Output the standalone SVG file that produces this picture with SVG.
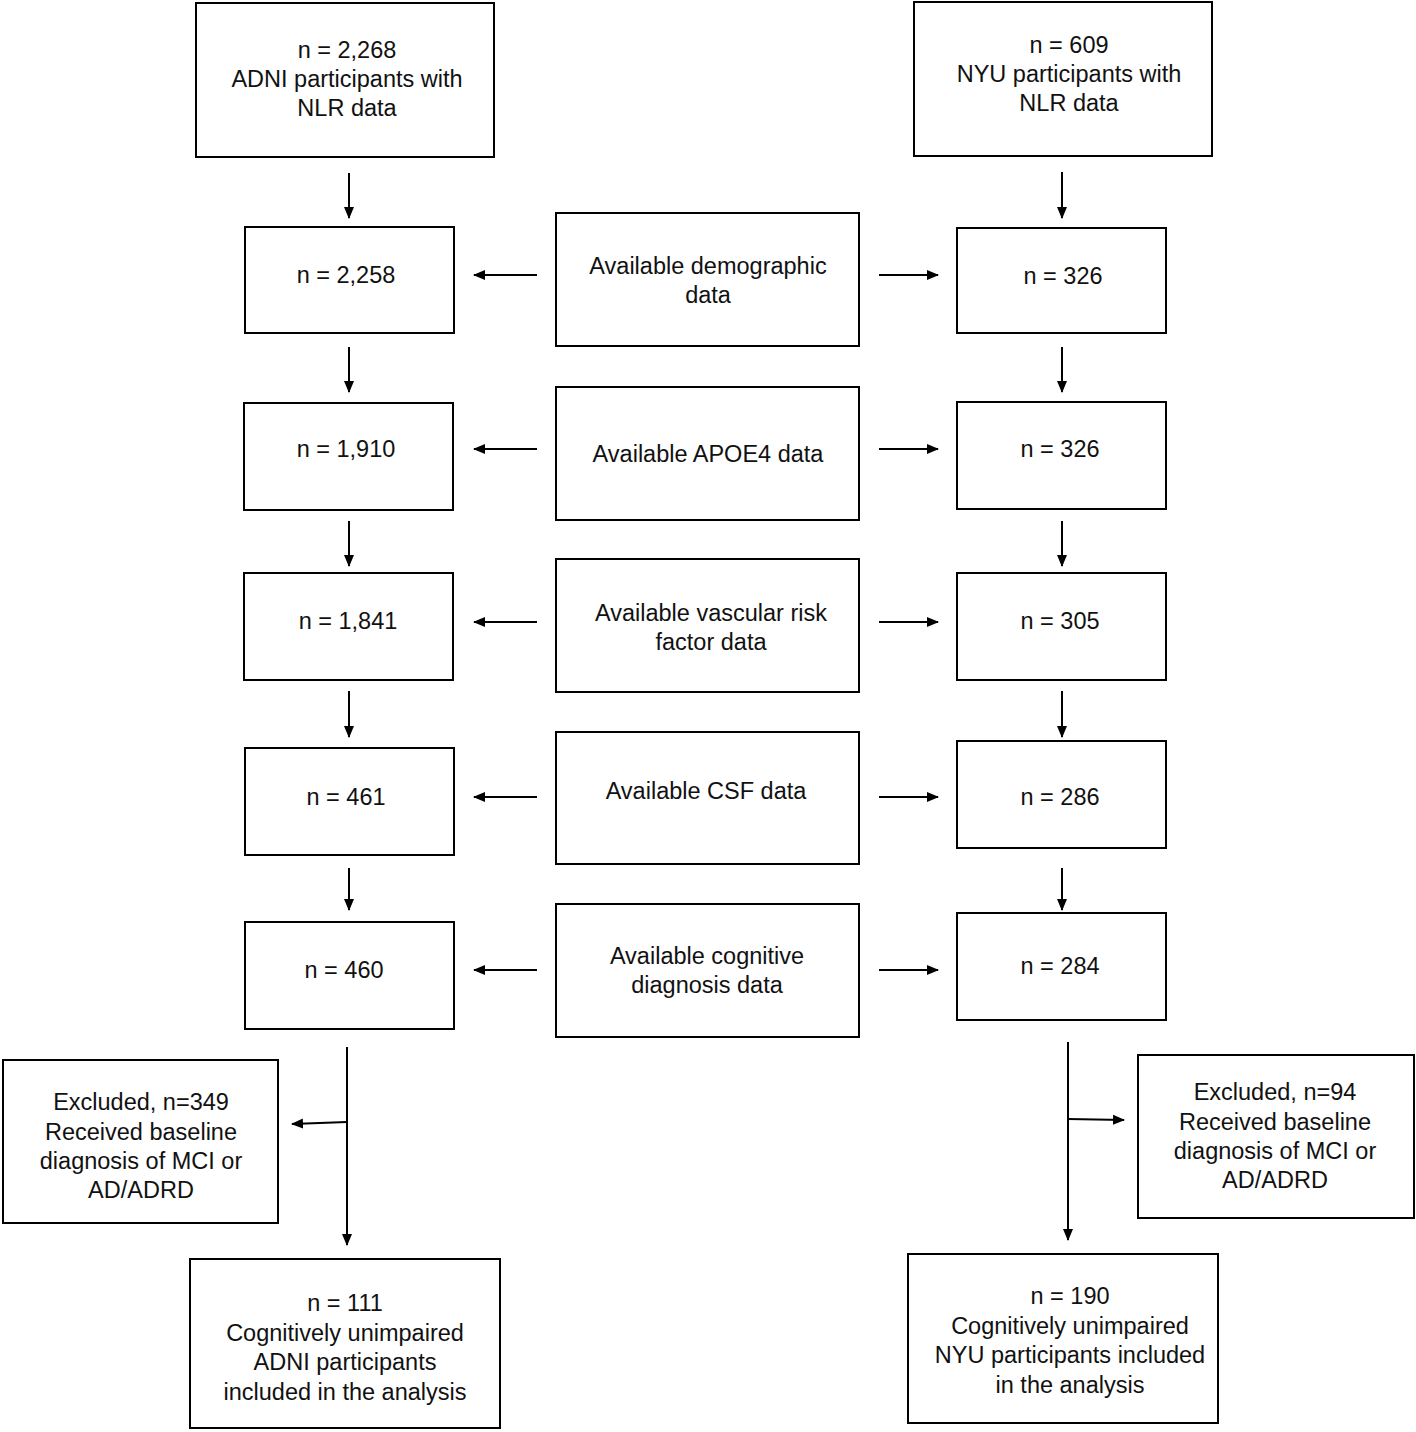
<svg xmlns="http://www.w3.org/2000/svg" width="1416" height="1432" viewBox="0 0 1416 1432">
<style>
rect{fill:#fff;stroke:#000;stroke-width:2}
text{font-family:"Liberation Sans",Arial,sans-serif;font-size:23.5px;text-anchor:middle;fill:#111}
.c line{stroke:#000;stroke-width:2;marker-end:url(#a)}
</style>
<defs><marker id="a" markerWidth="12" markerHeight="12" refX="11" refY="6" orient="auto" markerUnits="userSpaceOnUse"><path d="M0,1 L12,6 L0,11 Z" fill="#000"/></marker></defs>
<rect width="1416" height="1432" style="stroke:none"/>
<g id="adni0"><rect x="196" y="3" width="298" height="154"/><text x="347" y="58">n = 2,268</text><text x="347" y="87">ADNI participants with</text><text x="347" y="116">NLR data</text></g>
<g id="nyu0"><rect x="914" y="2" width="298" height="154"/><text x="1069" y="53">n = 609</text><text x="1069" y="82">NYU participants with</text><text x="1069" y="111">NLR data</text></g>
<g id="l1"><rect x="245" y="227" width="209" height="106"/><text x="346" y="283">n = 2,258</text></g>
<g id="l2"><rect x="244" y="403" width="209" height="107"/><text x="346" y="457">n = 1,910</text></g>
<g id="l3"><rect x="244" y="573" width="209" height="107"/><text x="348" y="629">n = 1,841</text></g>
<g id="l4"><rect x="245" y="748" width="209" height="107"/><text x="346" y="805">n = 461</text></g>
<g id="l5"><rect x="245" y="922" width="209" height="107"/><text x="344" y="978">n = 460</text></g>
<g id="c1"><rect x="556" y="213" width="303" height="133"/><text x="708" y="274">Available demographic</text><text x="708" y="303">data</text></g>
<g id="c2"><rect x="556" y="387" width="303" height="133"/><text x="708" y="462">Available APOE4 data</text></g>
<g id="c3"><rect x="556" y="559" width="303" height="133"/><text x="711" y="621">Available vascular risk</text><text x="711" y="650">factor data</text></g>
<g id="c4"><rect x="556" y="732" width="303" height="132"/><text x="706" y="799">Available CSF data</text></g>
<g id="c5"><rect x="556" y="904" width="303" height="133"/><text x="707" y="964">Available cognitive</text><text x="707" y="993">diagnosis data</text></g>
<g id="r1"><rect x="957" y="228" width="209" height="105"/><text x="1063" y="284">n = 326</text></g>
<g id="r2"><rect x="957" y="402" width="209" height="107"/><text x="1060" y="457">n = 326</text></g>
<g id="r3"><rect x="957" y="573" width="209" height="107"/><text x="1060" y="629">n = 305</text></g>
<g id="r4"><rect x="957" y="741" width="209" height="107"/><text x="1060" y="805">n = 286</text></g>
<g id="r5"><rect x="957" y="913" width="209" height="107"/><text x="1060" y="974">n = 284</text></g>
<g id="lex"><rect x="3" y="1060" width="275" height="163"/><text x="141" y="1110">Excluded, n=349</text><text x="141" y="1140">Received baseline</text><text x="141" y="1169">diagnosis of MCI or</text><text x="141" y="1198">AD/ADRD</text></g>
<g id="rex"><rect x="1138" y="1055" width="276" height="163"/><text x="1275" y="1100">Excluded, n=94</text><text x="1275" y="1130">Received baseline</text><text x="1275" y="1159">diagnosis of MCI or</text><text x="1275" y="1188">AD/ADRD</text></g>
<g id="lend"><rect x="190" y="1259" width="310" height="169"/><text x="345" y="1311">n = 111</text><text x="345" y="1341">Cognitively unimpaired</text><text x="345" y="1370">ADNI participants</text><text x="345" y="1400">included in the analysis</text></g>
<g id="rend"><rect x="908" y="1254" width="310" height="169"/><text x="1070" y="1304">n = 190</text><text x="1070" y="1334">Cognitively unimpaired</text><text x="1070" y="1363">NYU participants included</text><text x="1070" y="1393">in the analysis</text></g>
<g class="c">
<line x1="349" y1="173" x2="349" y2="218"/><line x1="349" y1="347" x2="349" y2="392"/><line x1="349" y1="521" x2="349" y2="566"/><line x1="349" y1="691" x2="349" y2="737"/><line x1="349" y1="868" x2="349" y2="910"/>
<line x1="1062" y1="172" x2="1062" y2="218"/><line x1="1062" y1="347" x2="1062" y2="392"/><line x1="1062" y1="521" x2="1062" y2="566"/><line x1="1062" y1="691" x2="1062" y2="737"/><line x1="1062" y1="868" x2="1062" y2="910"/>
<line x1="537" y1="275" x2="474" y2="275"/><line x1="537" y1="449" x2="474" y2="449"/><line x1="537" y1="622" x2="474" y2="622"/><line x1="537" y1="797" x2="474" y2="797"/><line x1="537" y1="970" x2="474" y2="970"/>
<line x1="879" y1="275" x2="938" y2="275"/><line x1="879" y1="449" x2="938" y2="449"/><line x1="879" y1="622" x2="938" y2="622"/><line x1="879" y1="797" x2="938" y2="797"/><line x1="879" y1="970" x2="938" y2="970"/>
<line x1="347" y1="1047" x2="347" y2="1245"/><line x1="347" y1="1122" x2="292" y2="1124"/>
<line x1="1068" y1="1042" x2="1068" y2="1240"/><line x1="1068" y1="1119" x2="1124" y2="1120"/>
</g>
</svg>
